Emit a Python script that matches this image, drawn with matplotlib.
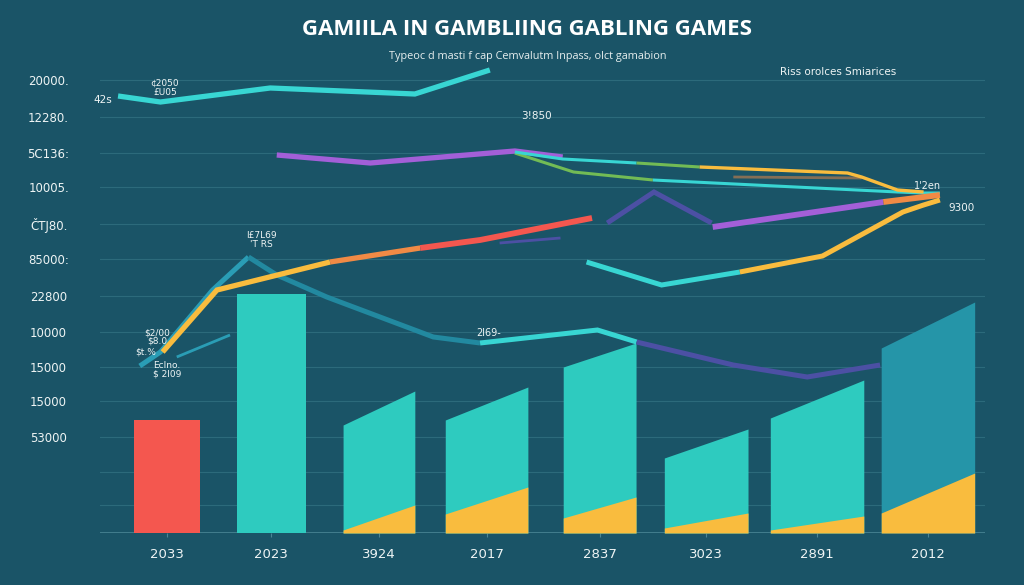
import matplotlib
matplotlib.use("Agg")
import matplotlib.pyplot as plt

# ---------------- data ----------------
categories = ["2033", "2023", "3924", "2017", "2837", "3023", "2891", "2012"]
bar_top_left = [1130, 2390, 1080, 1130, 1660, 750, 1150, 1850]
bar_top_right = [1130, 2390, 1420, 1460, 1900, 1040, 1530, 2310]
gold_left = [0, 0, 30, 190, 150, 50, 30, 200]
gold_right = [0, 0, 280, 460, 360, 200, 170, 600]

ytick_vals = [4530, 4160, 3800, 3460, 3090, 2740, 2370, 2010, 1660, 1320, 960]
ytick_labels = ["20000.", "12280.", "5C136:", "10005.", "ČTJ80.", "85000:",
                "22800", "10000", "15000", "15000", "53000"]
extra_grid = [610, 280]

# lines: x in category units, y in value units
top_x = [-0.45, -0.06, 0.95, 2.28, 2.97]
top_y = [4370, 4310, 4450, 4390, 4630]

purple1_x = [1.01, 1.87, 3.20, 3.64]
purple1_y = [3780, 3700, 3820, 3760]

upper_cyan_x = [3.20, 3.64, 4.32]
upper_cyan_y = [3810, 3740, 3700]
upper_green_x = [4.32, 4.90]
upper_green_y = [3700, 3660]
upper_gold_x = [4.90, 6.26, 6.39, 6.72, 6.96]
upper_gold_y = [3660, 3600, 3560, 3430, 3410]

lower_green_x = [3.20, 3.74, 4.47]
lower_green_y = [3800, 3610, 3530]
lower_cyan_x = [4.47, 6.72, 6.96, 7.11]
lower_cyan_y = [3530, 3410, 3400, 3400]

faint_orange_x = [5.21, 6.39]
faint_orange_y = [3560, 3550]

indigo_peak_x = [4.05, 4.48, 5.01]
indigo_peak_y = [3100, 3410, 3100]

purple2_x = [5.02, 6.59]
purple2_y = [3060, 3310]
coral_end_x = [6.59, 7.11]
coral_end_y = [3310, 3380]

rise_gold_x = [-0.04, 0.46, 1.50]
rise_gold_y = [1810, 2430, 2710]
rise_orange_x = [1.50, 2.33]
rise_orange_y = [2710, 2850]
rise_red_x = [2.33, 2.88, 3.91]
rise_red_y = [2850, 2930, 3150]
thin_indigo_x = [3.06, 3.62]
thin_indigo_y = [2900, 2950]

low_cyan_x = [3.86, 4.55, 5.27]
low_cyan_y = [2710, 2480, 2610]
low_gold_x = [5.27, 6.03, 6.77, 6.96, 7.11]
low_gold_y = [2610, 2770, 3210, 3280, 3330]

wave_blue_x = [-0.25, -0.06, 0.42, 0.75]
wave_blue_y = [1670, 1810, 2430, 2760]
wave_dark_x = [0.75, 1.01, 1.47, 2.45, 2.88]
wave_dark_y = [2760, 2580, 2360, 1960, 1900]
wave_cyan_x = [2.88, 3.96, 4.32]
wave_cyan_y = [1900, 2030, 1910]
wave_indigo_x = [4.32, 5.21, 5.89, 6.56]
wave_indigo_y = [1910, 1680, 1560, 1680]
thin_blue_x = [0.09, 0.58]
thin_blue_y = [1760, 1980]

# annotations (text, x, y, size)
notes = [
    ("42s", -0.59, 4330, 7.5),
    ("¢2050\n£U05", -0.02, 4450, 6.5),
    ("3!850", 3.40, 4170, 7.5),
    ("I£7L69\n'T RS", 0.87, 2930, 6.5),
    ("$2/00\n$8.0", -0.09, 1960, 6.5),
    ("$t.%", -0.20, 1810, 6.5),
    ("Eclno.\n$ 2l09", 0.0, 1630, 6.5),
    ("2l69-", 2.96, 2000, 7),
    ("1'2en", 7.0, 3470, 7),
    ("9300", 7.31, 3250, 7.5),
    ("Riss orolces Smiarices", 6.17, 4610, 7.5),
]

# ---------------- style ----------------
BG = "#1a5467"
TEAL = "#2ecbbf"
DARKTEAL = "#2595a8"
GOLD = "#f9bc3e"
RED = "#f4574f"
PURPLE = "#a35fd8"
INDIGO = "#4c50a4"
CYAN = "#38d6d3"
GREEN = "#72bb55"
ORANGE = "#f08a45"
BLUE = "#2a9db5"
DBLUE = "#2289a0"

bar_colors = [RED, TEAL, TEAL, TEAL, TEAL, TEAL, TEAL, DARKTEAL]
bar_widths = [0.61, 0.63, 0.66, 0.76, 0.67, 0.77, 0.86, 0.86]
bar_shift = [0.0, -0.04, -0.05, -0.06, -0.02, -0.04, -0.02, 0.0]

fig = plt.figure(figsize=(10.24, 5.85), dpi=100, facecolor=BG)
ax = fig.add_axes([100 / 1024, 52 / 585, 885 / 1024, 473 / 585])
ax.set_facecolor(BG)
ax.set_xlim(-0.616, 7.525)
ax.set_ylim(0, 4730)

for v in ytick_vals + extra_grid:
    ax.axhline(v, color="#2c6a7b", lw=0.8, zorder=0)
ax.axhline(0, color="#4a8594", lw=1.2, zorder=0)

# bars with slanted tops
for i in range(len(categories)):
    c = i + bar_shift[i]
    w = bar_widths[i]
    xs = [c - w / 2, c + w / 2]
    ax.fill_between(xs, [0, 0], [bar_top_left[i], bar_top_right[i]],
                    color=bar_colors[i], lw=0, zorder=2)
    if gold_right[i] > 0:
        ax.fill_between(xs, [0, 0], [gold_left[i], gold_right[i]],
                        color=GOLD, lw=0, zorder=3)


def ln(x, y, color, lw=3.6, alpha=1.0, z=4):
    ax.plot(x, y, color=color, lw=lw, alpha=alpha, zorder=z,
            solid_capstyle="butt", solid_joinstyle="miter")


ln(top_x, top_y, CYAN, 3.8)
ln(purple1_x, purple1_y, PURPLE, 3.8)
ln(lower_green_x, lower_green_y, GREEN, 2.2)
ln(lower_cyan_x, lower_cyan_y, CYAN, 2.2)
ln(faint_orange_x, faint_orange_y, ORANGE, 2.0, 0.5)
ln(upper_cyan_x, upper_cyan_y, CYAN, 2.2)
ln(upper_green_x, upper_green_y, GREEN, 2.2)
ln(upper_gold_x, upper_gold_y, GOLD, 2.4)
ln(indigo_peak_x, indigo_peak_y, INDIGO, 3.6)
ln(purple2_x, purple2_y, PURPLE, 4.2)
ln(coral_end_x, coral_end_y, ORANGE, 4.2)
ln(low_cyan_x, low_cyan_y, CYAN, 3.6)
ln(low_gold_x, low_gold_y, GOLD, 3.6)
ln(thin_indigo_x, thin_indigo_y, INDIGO, 2.0)
ln(wave_blue_x, wave_blue_y, BLUE, 3.6)
ln(wave_dark_x, wave_dark_y, DBLUE, 3.6)
ln(wave_cyan_x, wave_cyan_y, CYAN, 3.6)
ln(wave_indigo_x, wave_indigo_y, INDIGO, 3.6)
ln(thin_blue_x, thin_blue_y, BLUE, 2.0)
ln(rise_gold_x, rise_gold_y, GOLD, 3.8, z=5)
ln(rise_orange_x, rise_orange_y, ORANGE, 3.8, z=5)
ln(rise_red_x, rise_red_y, RED, 4.2, z=5)

for txt, x, y, s in notes:
    ax.text(x, y, txt, color="#eef4f4", fontsize=s, ha="center", va="center",
            family="Liberation Sans Narrow", linespacing=0.95, zorder=6)

ax.set_yticks(ytick_vals)
ax.set_yticklabels(ytick_labels)
ax.set_xticks([i + bar_shift[i] for i in range(len(categories))])
ax.set_xticklabels(categories)
ax.tick_params(axis="y", length=0, pad=37, labelsize=8.5, labelcolor="#eef4f4")
ax.tick_params(axis="x", length=3, color="#4a8594", pad=8, labelsize=9.5,
               labelcolor="#eef4f4")
for lab in ax.get_yticklabels():
    lab.set_horizontalalignment("center")
    lab.set_family("Liberation Sans Narrow")
for lab in ax.get_xticklabels():
    lab.set_family("Liberation Sans Narrow")
for sp in ax.spines.values():
    sp.set_visible(False)

fig.text(0.515, 0.949, "GAMIILA IN GAMBLIING GABLING GAMES", color="white",
         fontsize=16, fontweight="bold", family="Open Sans",
         ha="center", va="center")
fig.text(0.515, 0.904, "Typeoc d masti f cap Cemvalutm Inpass, olct gamabion",
         color="#e6eeee", fontsize=7.8, family="Open Sans",
         ha="center", va="center")

fig.savefig("out.png", dpi=100, facecolor=BG)
